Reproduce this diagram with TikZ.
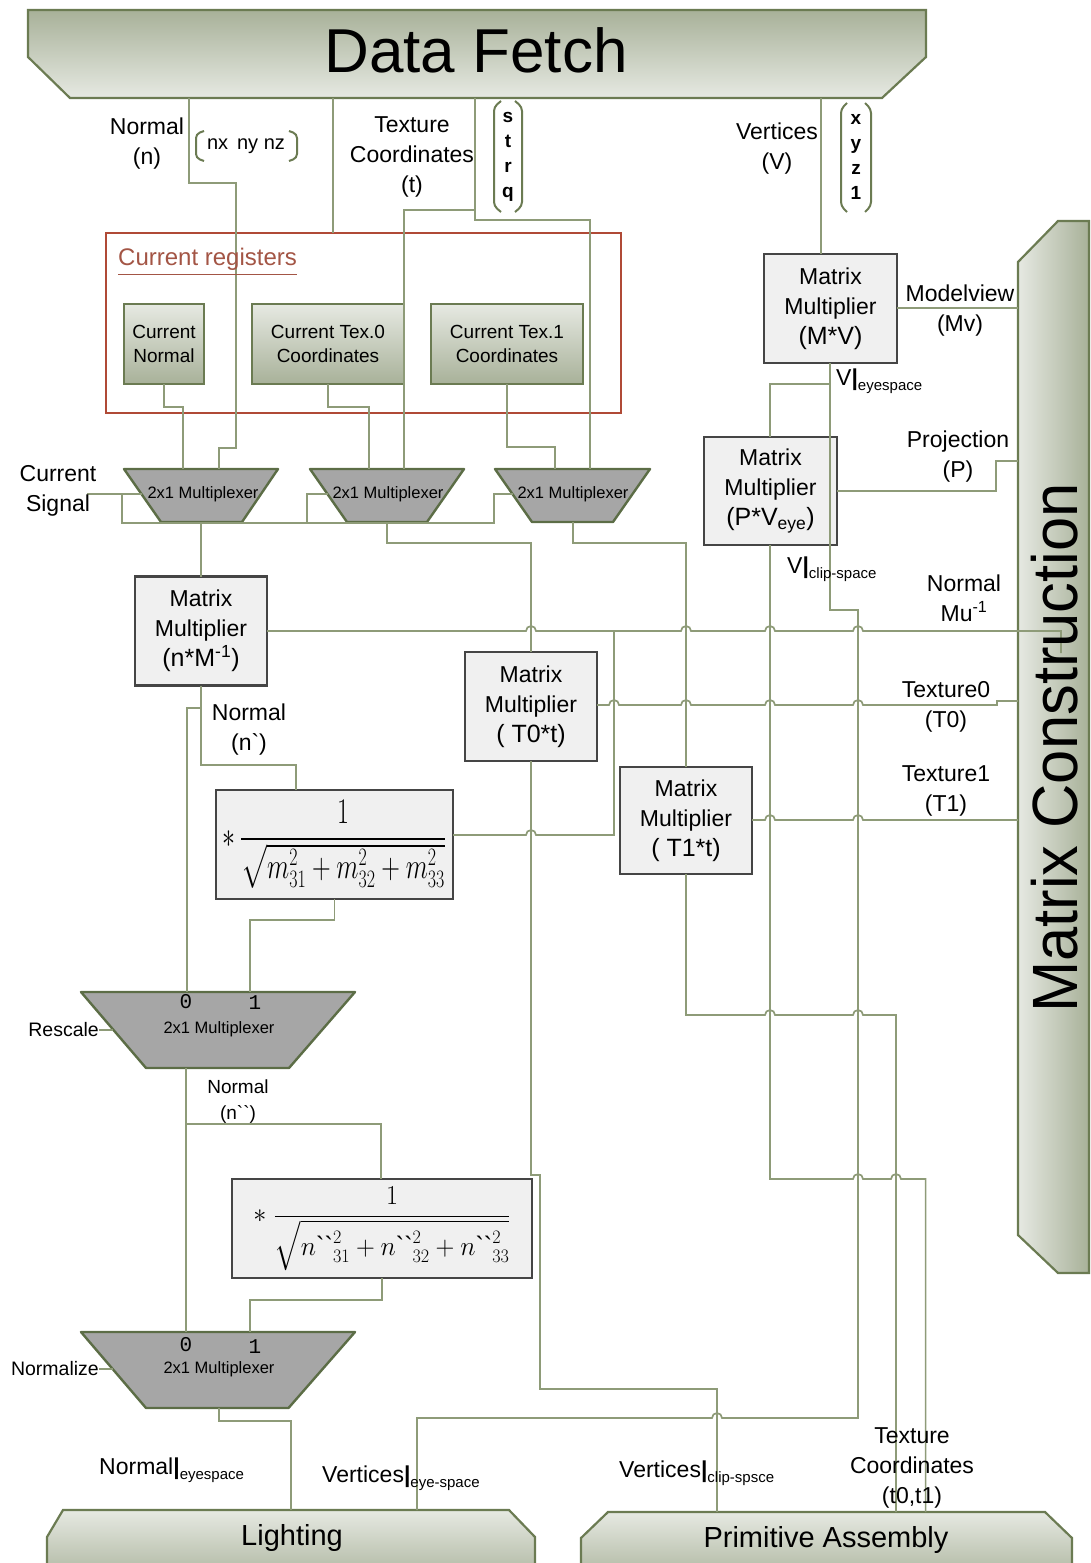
\documentclass[tikz,border=0pt]{standalone}
\usepackage[no-math]{fontspec}
\setmainfont{Liberation Sans}
\setmonofont{Liberation Mono}
\usepackage{amsmath}
\usepackage{graphicx}
\definecolor{wirec}{HTML}{8E9B78}
\definecolor{edgec}{HTML}{6B7B52}
\definecolor{muxedge}{HTML}{5C6D46}
\definecolor{muxfill}{HTML}{A6A6A6}
\definecolor{boxfill}{HTML}{F0F0F0}
\definecolor{boxedge}{HTML}{454545}
\definecolor{redc}{HTML}{B04A36}
\definecolor{regtext}{HTML}{A35545}
\definecolor{gdark}{HTML}{A8B199}
\definecolor{glight}{HTML}{E6E9E2}
\newcommand{\hopr}[2]{-- ({#1-5},#2) arc[start angle=180,end angle=360,radius=5]}
\newcommand{\hopl}[2]{-- ({#1+5},#2) arc[start angle=0,end angle=-180,radius=5]}
\begin{document}
\begin{tikzpicture}[x=1pt,y=-1pt,
  wire/.style={draw=wirec, line width=1.7pt},
  mmbox/.style={draw=boxedge, fill=boxfill, line width=2.6pt, inner sep=0pt, outer sep=0pt, align=center, font=\fontsize{23}{30}\selectfont},
  regbox/.style={draw=edgec, line width=2.2pt, top color=glight, bottom color=gdark, inner sep=0pt, outer sep=0pt, align=center, font=\fontsize{19}{24}\selectfont},
  fbox/.style={draw=boxedge, fill=boxfill, line width=2.6pt, inner sep=0pt, outer sep=0pt},
  lbl/.style={align=center, inner sep=0pt, font=\fontsize{23}{30}\selectfont},
  muxtxt/.style={inner sep=0pt, font=\fontsize{16.5}{18}\selectfont},
  muxshape/.style={fill=muxfill, draw=muxedge, line width=2.4pt, line join=round},
  bigshape/.style={draw=edgec, line width=2.2pt},
  brk/.style={draw=edgec, line width=2pt, rounded corners=4pt},
  digit/.style={inner sep=0pt, font=\ttfamily\fontsize{21}{21}\selectfont},
  sublbl/.style={anchor=west, inner sep=0pt, font=\fontsize{23}{23}\selectfont}
]
\useasboundingbox (0,0) rectangle (1090,1563);

% ---------- big stage shapes ----------
\shade[bigshape, top color=gdark, bottom color=glight] (28,10) -- (926,10) -- (926,57) -- (882,98) -- (70,98) -- (28,57) -- cycle;
\shade[bigshape, left color=glight, right color=gdark] (1018,262) -- (1058,221) -- (1089,221) -- (1089,1273) -- (1058,1273) -- (1018,1235) -- cycle;
\shade[bigshape, top color=glight, bottom color=gdark!85] (47,1570) -- (47,1537) -- (63,1510) -- (509,1510) -- (535,1537) -- (535,1570);
\shade[bigshape, top color=glight, bottom color=gdark!85] (581,1570) -- (581,1538) -- (608,1512) -- (1045,1512) -- (1072,1538) -- (1072,1570);
\coordinate (dfB) at (0,98);
\coordinate (mcL) at (1018,0);
\coordinate (liT) at (0,1510);
\coordinate (paT) at (0,1512);

% ---------- current registers ----------
\node[draw=redc, line width=2.2pt, minimum width=515, minimum height=180, inner sep=0pt, outer sep=0pt] (regs) at (363.5,323) {};
\node[regbox, minimum width=80, minimum height=80] (regN) at (164,344) {Current\\Normal};
\node[regbox, minimum width=152, minimum height=80] (regT0) at (328,344) {Current Tex.0\\Coordinates};
\node[regbox, minimum width=152, minimum height=80] (regT1) at (507,344) {Current Tex.1\\Coordinates};

% ---------- multiplexers ----------
\draw[muxshape] (124,469) -- (278,469) -- (242,522) -- (161,522) -- cycle;
\draw[muxshape] (310,469) -- (464,469) -- (427,522) -- (347,522) -- cycle;
\draw[muxshape] (495,469) -- (650,469) -- (613,522) -- (532,522) -- cycle;
\draw[muxshape] (81,992) -- (355,992) -- (289,1068) -- (146,1068) -- cycle;
\draw[muxshape] (81,1332) -- (355,1332) -- (288.5,1408) -- (146,1408) -- cycle;
\coordinate (mxA) at (201,469);  \coordinate (mxAb) at (201,522);
\coordinate (mxB) at (387,469);  \coordinate (mxBb) at (387,522);
\coordinate (mxC) at (572,469);  \coordinate (mxCb) at (573,522);
\coordinate (mxRt) at (218,992); \coordinate (mxRb) at (218,1068);
\coordinate (mxNt) at (218,1332); \coordinate (mxNb) at (218,1408);
\node[muxtxt] (muxA) at (203,494) {2x1 Multiplexer};
\node[muxtxt] (muxB) at (388,494) {2x1 Multiplexer};
\node[muxtxt] (muxC) at (573,494) {2x1 Multiplexer};
\node[muxtxt] (muxR) at (219,1029) {2x1 Multiplexer};
\node[muxtxt] (muxN) at (219,1369) {2x1 Multiplexer};
\node[digit] (r0) at (186,1002) {0};
\node[digit] (r1) at (255,1003) {1};
\node[digit] (n0) at (186,1345) {0};
\node[digit] (n1) at (255,1347) {1};

% ---------- matrix multipliers ----------
\node[mmbox, minimum width=133, minimum height=109] (mmMV) at (830.5,308.5) {Matrix\\Multiplier\\{\fontsize{25}{30}\selectfont (M*V)}};
\node[mmbox, minimum width=133, minimum height=108] (mmPV) at (770.5,491) {Matrix\\Multiplier\\{\fontsize{25}{30}\selectfont (P*V\textsubscript{eye})}};
\node[mmbox, minimum width=132, minimum height=109] (mmN) at (201,631) {Matrix\\Multiplier\\{\fontsize{25}{30}\selectfont (n*M\textsuperscript{-1})}};
\node[mmbox, minimum width=132, minimum height=109] (mmT0) at (531,706.5) {Matrix\\Multiplier\\{\fontsize{25}{30}\selectfont ( T0*t)}};
\node[mmbox, minimum width=132, minimum height=107] (mmT1) at (686,820.5) {Matrix\\Multiplier\\{\fontsize{25}{30}\selectfont ( T1*t)}};
\node[fbox, minimum width=237, minimum height=109] (f1) at (334.5,844.5) {\fontsize{24}{28}\selectfont\scalebox{1.04}[1.45]{${*}\,\dfrac{1}{\sqrt{m_{31}^{2}+m_{32}^{2}+m_{33}^{2}}}$}};
\node[fbox, minimum width=300, minimum height=99] (f2) at (382,1228.5) {\fontsize{24}{28}\selectfont\scalebox{1.05}[1.1]{${*}\;\dfrac{1}{\sqrt{n\text{\textasciigrave\textasciigrave}^{2}_{31}+n\text{\textasciigrave\textasciigrave}^{2}_{32}+n\text{\textasciigrave\textasciigrave}^{2}_{33}}}$}};

% ---------- wires ----------
\draw[wire] (dfB -| 189,0) -- (189,183) -- (236,183) -- (236,448) -- (219,448) -- (mxA -| 219,0);
\draw[wire] (regN.south) -- (164,407) -- (183,407) -- (mxA -| 183,0);
\draw[wire] (regT0.south) -- (328,407) -- (369,407) -- (mxB -| 369,0);
\draw[wire] (dfB -| 475,0) -- (475,220) -- (590,220) -- (mxC -| 590,0);
\draw[wire] (475,210) -- (404,210) -- (mxB -| 404,0);
\draw[wire] (regT1.south) -- (507,447) -- (555,447) -- (mxC -| 555,0);
\draw[wire] (dfB -| 333,0) -- (regs.north -| 333,0);
\coordinate (csig) at (87,494);
\draw[wire] (csig) -- (141.5,494);
\draw[wire] (122,494) -- (122,523) -- (494,523) -- (494,494) -- (512.5,494);
\draw[wire] (307,523) -- (307,494) -- (327.5,494);
\draw[wire] (mxAb) -- (mmN.north);
\draw[wire] (mxBb) -- (387,543) -- (531,543) -- (mmT0.north);
\draw[wire] (mxCb) -- (573,543) -- (686,543) -- (mmT1.north);
\draw[wire] (mmN.east) \hopr{531}{631} \hopr{686}{631} \hopr{770}{631} \hopr{858}{631} -- (1061,631) -- (1061,653);
\draw[wire] (f1.east |- 0,835) \hopr{531}{835} -- (614,835) -- (614,631);
\draw[wire] (mmT0.east |- 0,705) \hopr{614}{705} \hopr{686}{705} \hopr{770}{705} \hopr{858}{705} -- (997,705) -- (997,701) -- (mcL |- 0,701);
\draw[wire] (mmT1.east |- 0,820) \hopr{770}{820} \hopr{858}{820} -- (mcL |- 0,820);
\draw[wire] (mmT1.south) -- (686,1015) \hopr{770}{1015} \hopr{858}{1015} -- (896,1015) -- (paT -| 896,0);
\draw[wire] (mmPV.south -| 770,0) -- (770,1179) \hopr{858}{1179} \hopr{896}{1179} -- (925.6,1179) -- (paT -| 925.6,0);
\draw[wire] (mmT0.south) -- (531,1175) -- (540,1175) -- (540,1389) -- (717,1389) -- (paT -| 717,0);
\draw[wire] (mmMV.south -| 830,0) -- (830,610) -- (858,610) -- (858,1418) \hopl{717}{1418} -- (417,1418) -- (liT -| 417,0);
\draw[wire] (830,384) -- (770,384) -- (mmPV.north -| 770,0);
\draw[wire] (dfB -| 821,0) -- (mmMV.north -| 821,0);
\draw[wire] (mmMV.east |- 0,308) -- (mcL |- 0,308);
\draw[wire] (mmPV.east) -- (996,491) -- (996,461) -- (mcL |- 0,461);
\draw[wire] (mmN.south) -- (201,765) -- (296,765) -- (f1.north -| 296,0);
\draw[wire] (201,708) -- (187,708) -- (mxRt -| 187,0);
\draw[wire] (f1.south) -- (334.5,920) -- (250,920) -- (mxRt -| 250,0);
\draw[wire] (mxRb -| 186,0) -- (mxNt -| 186,0);
\draw[wire] (186,1124) -- (381,1124) -- (f2.north -| 381,0);
\draw[wire] (f2.south) -- (382,1300) -- (250,1300) -- (mxNt -| 250,0);
\draw[wire] (mxNb -| 219,0) -- (219,1421) -- (291,1421) -- (liT -| 291,0);

% ---------- brackets ----------
\draw[brk] (204,131) -- (196,134) -- (196,158) -- (204,161);
\draw[brk] (289,131) -- (297,134) -- (297,158) -- (289,161);
\draw[brk] (501,101) -- (494,107) -- (494,206) -- (501,212);
\draw[brk] (515,101) -- (522,107) -- (522,206) -- (515,212);
\draw[brk] (847,103) -- (841,109) -- (841,206) -- (847,212);
\draw[brk] (865,103) -- (871,109) -- (871,206) -- (865,212);
\node[inner sep=0pt, font=\fontsize{20}{20}\selectfont] (nxyz) at (246,146) {nx\, ny nz};
\node[inner sep=0pt, align=center, font=\bfseries\fontsize{19}{25}\selectfont] (strq) at (508,157) {s\\t\\r\\q};
\node[inner sep=0pt, align=center, font=\bfseries\fontsize{19}{25}\selectfont] (xyz1) at (856,157) {x\\y\\z\\1};

% ---------- stage titles ----------
\node[inner sep=0pt] (tDF) at (476,50) {\fontsize{62}{62}\selectfont Data Fetch};
\node[inner sep=0pt, rotate=90] (tMC) at (1055,748) {\fontsize{64}{64}\selectfont\scalebox{0.96}[1]{Matrix Construction}};
\node[inner sep=0pt, anchor=base] (tLi) at (292,1545) {\fontsize{29}{29}\selectfont Lighting};
\node[inner sep=0pt, anchor=base] (tPA) at (826,1547) {\fontsize{29}{29}\selectfont Primitive Assembly};

% ---------- labels ----------
\node[anchor=west, inner sep=0pt, text=regtext, font=\fontsize{24}{24}\selectfont] (regsLbl) at (118,262) {\underline{Current registers}};
\node[lbl] (lNn) at (147,144) {Normal\\(n)};
\node[lbl] (lTC) at (412,157) {Texture\\Coordinates\\(t)};
\node[lbl] (lV) at (777,149) {Vertices\\(V)};
\node[lbl] (lMv) at (960,311) {Modelview\\(Mv)};
\node[lbl] (lP) at (958,457) {Projection\\(P)};
\node[lbl] (lNM) at (964,598) {Normal\\Mu\textsuperscript{-1}};
\node[lbl] (lT0) at (946,707) {Texture0\\(T0)};
\node[lbl] (lT1) at (946,791) {Texture1\\(T1)};
\node[lbl] (lNp) at (249,730) {Normal\\(n\textasciigrave)};
\node[lbl, font=\fontsize{19}{26}\selectfont] (lNpp) at (238,1102) {Normal\\(n\textasciigrave\textasciigrave)};
\node[lbl] (lCS) at (58,491) {Current\\Signal};
\node[lbl] (lTC2) at (912,1468) {Texture\\Coordinates\\(t0,t1)};
\node[anchor=east, inner sep=0pt, font=\fontsize{19.5}{20}\selectfont] (lRes) at (99,1030) {Rescale};
\node[anchor=east, inner sep=0pt, font=\fontsize{19.5}{20}\selectfont] (lNorm) at (99,1369) {Normalize};
\draw[wire] (lRes.east) -- (113,1030);
\draw[wire] (lNorm.east) -- (113,1369);
\node[sublbl] (lVeye) at (836,381) {V\textbf{|}{\fontsize{15}{15}\selectfont\raisebox{-5pt}{eyespace}}};
\node[sublbl] (lVclip) at (787,569) {V\textbf{|}{\fontsize{15}{15}\selectfont\raisebox{-5pt}{clip-space}}};
\node[sublbl] (lNeye) at (99,1470) {Normal\textbf{|}{\fontsize{15}{15}\selectfont\raisebox{-5pt}{eyespace}}};
\node[sublbl] (lVeye2) at (322,1478) {Vertices\textbf{|}{\fontsize{15}{15}\selectfont\raisebox{-5pt}{eye-space}}};
\node[sublbl] (lVclip2) at (619,1473) {Vertices\textbf{|}{\fontsize{15}{15}\selectfont\raisebox{-5pt}{clip-spsce}}};
\end{tikzpicture}
\end{document}
